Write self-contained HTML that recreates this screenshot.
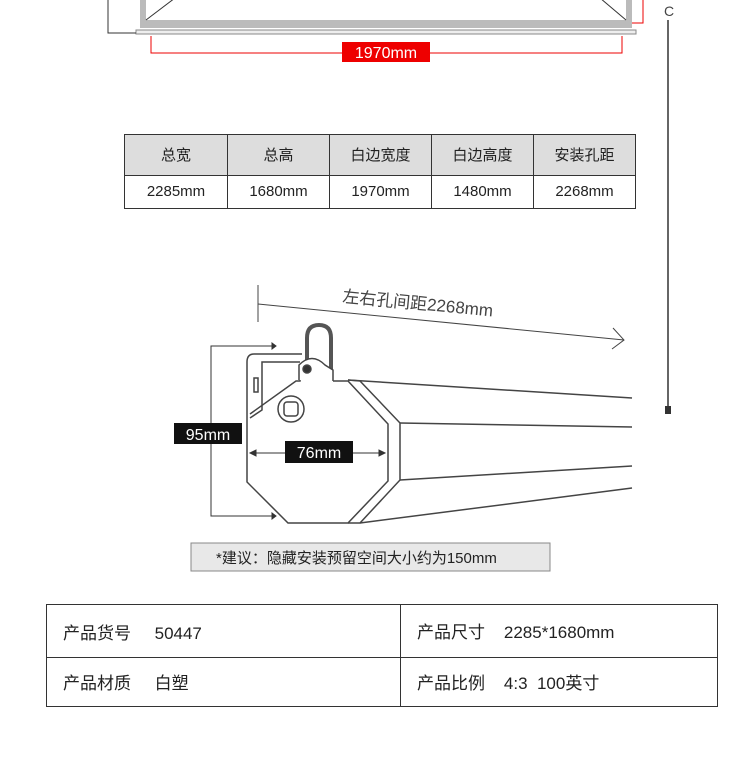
<!DOCTYPE html><html><head><meta charset="utf-8"><style>
body{margin:0;width:750px;height:757px;background:#fff;position:relative;overflow:hidden;font-family:"Liberation Sans","Noto Sans CJK SC",sans-serif;color:#222}
.t{position:absolute;border-collapse:collapse;table-layout:fixed}
.t td{border:1px solid #333;text-align:center;font-size:15px;padding:0}
.b td{text-align:left;font-size:17px;padding-left:16px;border:1px solid #333}
</style></head><body>
<svg width="750" height="757" style="position:absolute;left:0;top:0" font-family="Liberation Sans, Noto Sans CJK SC, sans-serif">
<rect x="140" y="-5" width="6" height="28" fill="#bbb"/><rect x="626" y="-5" width="6" height="28" fill="#bbb"/>
<rect x="140" y="20" width="492" height="8" fill="#bbb"/>
<line x1="146" y1="20" x2="175" y2="-2" stroke="#333"/><line x1="626" y1="20" x2="600" y2="-2" stroke="#333"/>
<rect x="136" y="30" width="500" height="4" fill="#eee" stroke="#888"/>
<polyline points="108,0 108,33 136,33" fill="none" stroke="#333"/>
<polyline points="632,23 643,23 643,0" fill="none" stroke="#e00"/>
<polyline points="151,36 151,53 622,53 622,36" fill="none" stroke="#e00"/>
<rect x="342" y="42" width="88" height="20" fill="#e00"/>
<text x="386" y="58" fill="#fff" font-size="16" text-anchor="middle">1970mm</text>
<text x="664" y="16" font-size="14" fill="#444">C</text>
<line x1="668" y1="20" x2="668" y2="408" stroke="#333" stroke-width="1.5"/>
<rect x="665" y="406" width="6" height="8" fill="#333"/>
<line x1="258" y1="285" x2="258" y2="322" stroke="#444"/>
<line x1="258" y1="304" x2="624" y2="340" stroke="#444"/>
<polyline points="613,328 624,340 612,349" fill="none" stroke="#444"/>
<text x="342" y="302" font-size="17" fill="#444" transform="rotate(5.5 342 302)">左右孔间距2268mm</text>
<g stroke="#444" stroke-width="1.5" fill="none">
<line x1="348" y1="380" x2="632" y2="398"/><line x1="400" y1="423" x2="632" y2="427"/>
<line x1="400" y1="480" x2="632" y2="466"/><line x1="360" y1="523" x2="632" y2="488"/>
<polyline points="348,380 360,381 400,423 400,480 360,523 348,523"/>
<path d="M302,354 L254,354 Q247,354 247,362 L247,482 L288,523 L348,523 L388,481 L388,424 L348,381 L333,381"/>
<path d="M300,362 L262,362 L262,410 L250,418"/>
<path d="M301,370 L300,381 L296,381 L250,414"/>
<rect x="254" y="378" width="4" height="14"/>
<circle cx="291" cy="409" r="13"/><rect x="284" y="402" width="14" height="14" rx="3"/>
<path d="M307,370 L307,338 Q307,325 319,325 Q331,325 331,338 L331,370" stroke-width="4" stroke="#555"/>
<path d="M299,380 L299,365 Q312,352 325,365 L333,370 L333,381" fill="#fff"/>
<circle cx="307" cy="369" r="4" fill="#333"/>
</g>
<g stroke="#333" fill="#333">
<polyline points="272,346 211,346 211,516 272,516" fill="none"/>
<path d="M272,343 L276,346 L272,349Z"/><path d="M272,513 L276,516 L272,519Z"/>
<line x1="250" y1="453" x2="385" y2="453"/>
<path d="M250,453 L256,450 L256,456Z"/><path d="M385,453 L379,450 L379,456Z"/>
</g>
<rect x="174" y="423" width="68" height="21" fill="#111"/><text x="208" y="440" fill="#fff" font-size="16" text-anchor="middle">95mm</text>
<rect x="285" y="441" width="68" height="22" fill="#111"/><text x="319" y="458" fill="#fff" font-size="16" text-anchor="middle">76mm</text>
<rect x="191" y="543" width="359" height="28" fill="#e8e8e8" stroke="#888"/>
<text x="216" y="563" font-size="15" fill="#222">*建议：隐藏安装预留空间大小约为150mm</text>
</svg>
<table class="t" style="left:124px;top:134px;width:511px;height:75px">
<colgroup><col style="width:103px"><col style="width:102px"><col style="width:102px"><col style="width:102px"><col style="width:102px"></colgroup>
<tr style="background:#ddd"><td>总宽</td><td>总高</td><td>白边宽度</td><td>白边高度</td><td>安装孔距</td></tr>
<tr><td>2285mm</td><td>1680mm</td><td>1970mm</td><td>1480mm</td><td>2268mm</td></tr></table>
<table class="t b" style="left:46px;top:604px;width:672px;height:103px">
<colgroup><col style="width:354px"><col></colgroup>
<tr><td style="padding-top:2px">产品货号&nbsp;&nbsp;&nbsp;&nbsp;&nbsp;50447</td><td>产品尺寸&nbsp;&nbsp;&nbsp;&nbsp;2285*1680mm</td></tr>
<tr><td>产品材质&nbsp;&nbsp;&nbsp;&nbsp;&nbsp;白塑</td><td>产品比例&nbsp;&nbsp;&nbsp;&nbsp;4:3&nbsp;&nbsp;100英寸</td></tr></table>
</body></html>
